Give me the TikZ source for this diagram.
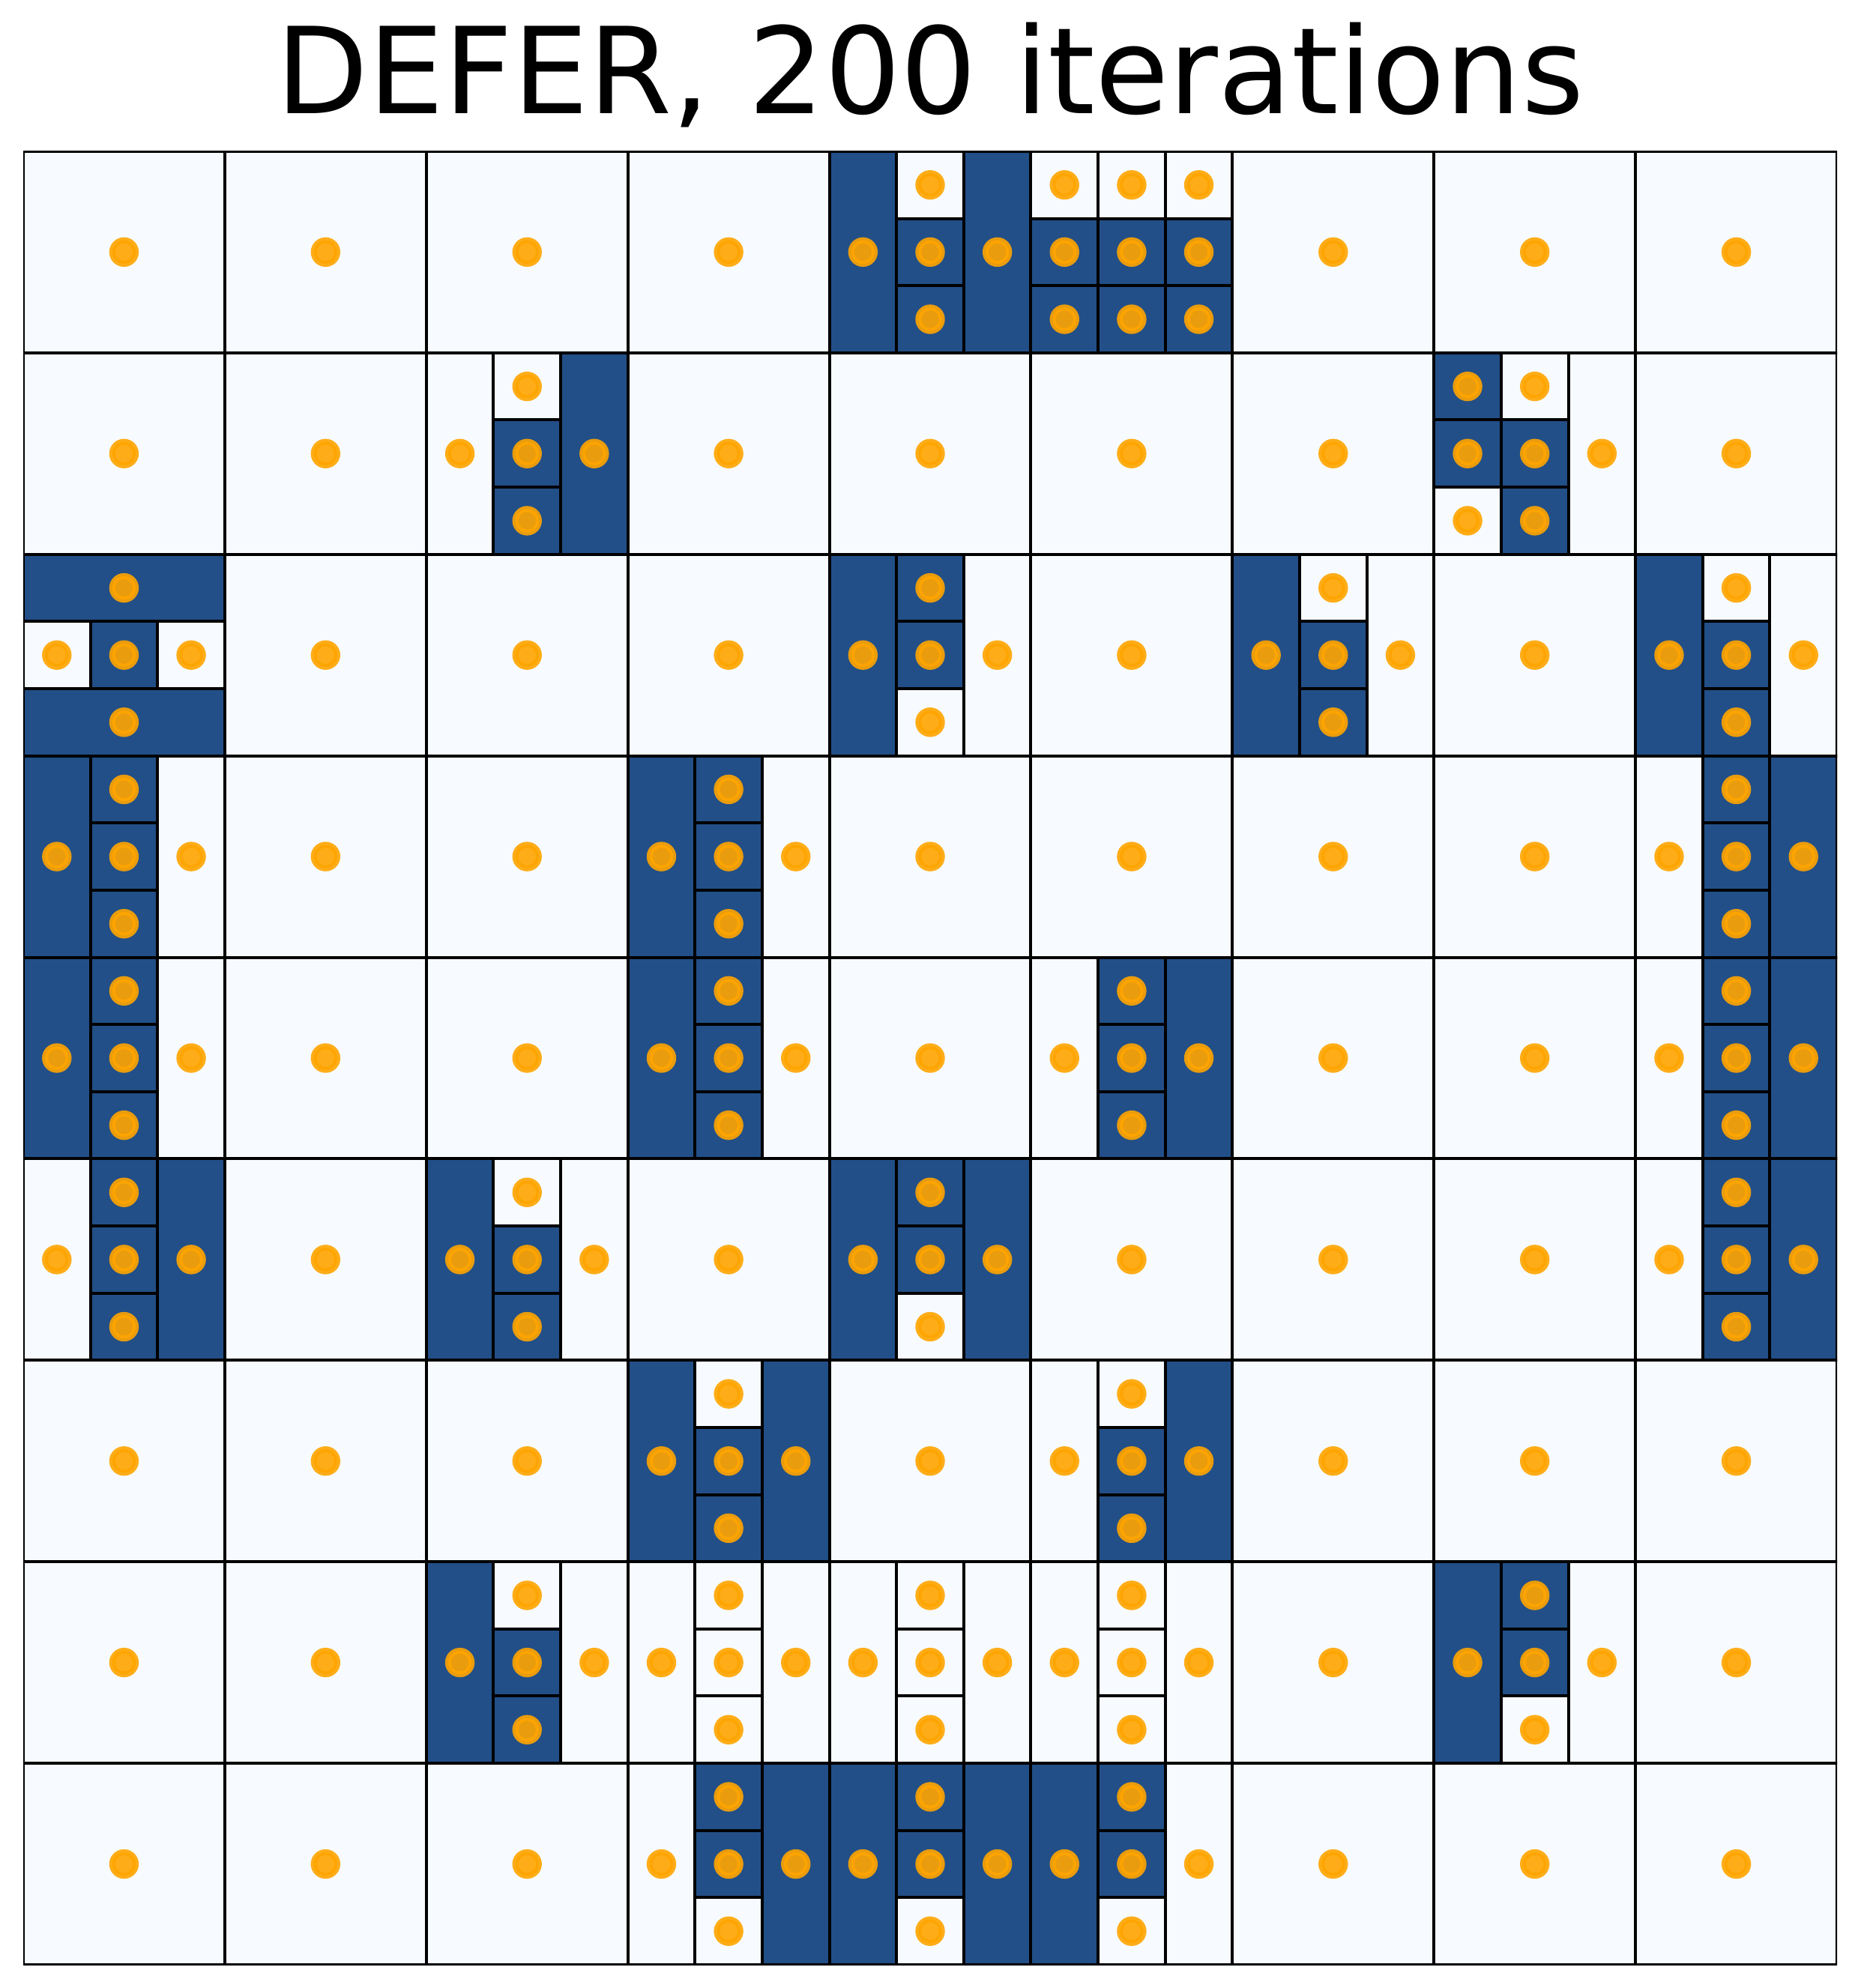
\documentclass[tikz,border=0pt]{standalone}
\usepackage{fontspec}
\usepackage{xcolor}
\usepackage{tikz}
\newfontfamily\titlefont{DejaVu Sans}
\definecolor{dk}{RGB}{34,79,135}
\definecolor{lt}{HTML}{F7FBFF}
\definecolor{dotorange}{RGB}{255,165,0}

\begin{document}
\begin{tikzpicture}[
  x=2.6889cm, y=2.6889cm,
  cell/.style={draw=black, line width=0.04cm},
  dot/.style={draw=dotorange, fill=dotorange, opacity=0.9, line width=0.08cm},
]
\useasboundingbox (-0.1153,-0.1153) rectangle (9.1153,9.7512);

\node[font={\titlefont\fontsize{45.5}{52}\selectfont}, anchor=base, inner sep=0pt]
     (title) at (4.5,9.187) {DEFER, 200 iterations};

\begin{scope}
\clip (0,0) rectangle (9,9);

% whole cells
\foreach \cx in {0,...,8}
  \foreach \ry in {0,...,8} {
    \path[cell, fill=lt] (\cx,\ry) rectangle ++(1,1);
    \path[dot] (\cx+0.5,\ry+0.5) circle[radius=0.0584];
  }

% unsplit strips: column/row (from top)/strip/colour
\foreach \cx/\ry/\s/\fc in {5/1/0/dk, 5/1/2/dk,
    3/2/0/lt, 3/2/2/dk, 8/2/2/lt,
    5/3/0/dk, 5/3/2/lt, 7/3/0/dk, 7/3/2/lt, 9/3/0/dk, 9/3/2/lt,
    1/4/0/dk, 1/4/2/lt, 4/4/0/dk, 4/4/2/lt, 9/4/0/lt, 9/4/2/dk,
    1/5/0/dk, 1/5/2/lt, 4/5/0/dk, 4/5/2/lt, 6/5/0/lt, 6/5/2/dk, 9/5/0/lt, 9/5/2/dk,
    1/6/0/lt, 1/6/2/dk, 3/6/0/dk, 3/6/2/lt, 5/6/0/dk, 5/6/2/dk, 9/6/0/lt, 9/6/2/dk,
    4/7/0/dk, 4/7/2/dk, 6/7/0/lt, 6/7/2/dk,
    3/8/0/dk, 3/8/2/lt, 4/8/0/lt, 4/8/2/lt, 5/8/0/lt, 5/8/2/lt,
    6/8/0/lt, 6/8/2/lt, 8/8/0/dk, 8/8/2/lt,
    4/9/0/lt, 4/9/2/dk, 5/9/0/dk, 5/9/2/dk, 6/9/0/dk, 6/9/2/lt} {
  \path[cell, fill=\fc] (\cx-1+\s/3,9-\ry) rectangle ++(1/3,1);
  \path[dot] (\cx-1+\s/3+1/6,9.5-\ry) circle[radius=0.0584];
}

% split strips: column/row/strip/top/middle/bottom
\foreach \cx/\ry/\s/\fu/\fm/\fd in {5/1/1/lt/dk/dk,
    6/1/0/lt/dk/dk, 6/1/1/lt/dk/dk, 6/1/2/lt/dk/dk,
    3/2/1/lt/dk/dk, 8/2/0/dk/dk/lt, 8/2/1/lt/dk/dk,
    5/3/1/dk/dk/lt, 7/3/1/lt/dk/dk, 9/3/1/lt/dk/dk,
    1/4/1/dk/dk/dk, 4/4/1/dk/dk/dk, 9/4/1/dk/dk/dk,
    1/5/1/dk/dk/dk, 4/5/1/dk/dk/dk, 6/5/1/dk/dk/dk, 9/5/1/dk/dk/dk,
    1/6/1/dk/dk/dk, 3/6/1/lt/dk/dk, 5/6/1/dk/dk/lt, 9/6/1/dk/dk/dk,
    4/7/1/lt/dk/dk, 6/7/1/lt/dk/dk,
    3/8/1/lt/dk/dk, 4/8/1/lt/lt/lt, 5/8/1/lt/lt/lt, 6/8/1/lt/lt/lt, 8/8/1/dk/dk/lt,
    4/9/1/dk/dk/lt, 5/9/1/dk/dk/lt, 6/9/1/dk/dk/lt}
  \foreach \fc [count=\n] in {\fu,\fm,\fd} {
    \path[cell, fill=\fc] (\cx-1+\s/3,10-\ry-\n/3) rectangle ++(1/3,1/3);
    \path[dot] (\cx-1+\s/3+1/6,10-\ry-\n/3+1/6) circle[radius=0.0584];
  }

% the cell split across (row 3, column 1)
\foreach \y/\fc in {6.6667/dk, 6/dk} {
  \path[cell, fill=\fc] (0,\y) rectangle ++(1,1/3);
  \path[dot] (0.5,\y+1/6) circle[radius=0.0584];
}
\foreach \s/\fc in {0/lt, 1/dk, 2/lt} {
  \path[cell, fill=\fc] (\s/3,6+1/3) rectangle ++(1/3,1/3);
  \path[dot] (\s/3+1/6,6.5) circle[radius=0.0584];
}
\end{scope}
\end{tikzpicture}
\end{document}
